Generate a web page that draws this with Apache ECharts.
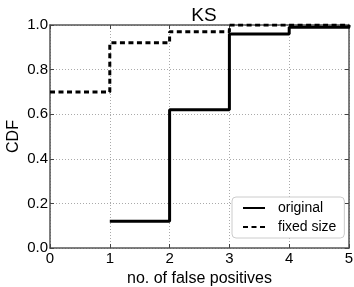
<!DOCTYPE html>
<html><head><meta charset="utf-8">
<script src="https://cdn.jsdelivr.net/npm/echarts@6/dist/echarts.min.js"></script>
<style>html,body{margin:0;padding:0;background:#fff}#c{width:354px;height:287px}</style>
</head><body><div id="c"></div>
<script>
const xTicks = [0, 1, 2, 3, 4, 5];
const yTicks = [0.0, 0.2, 0.4, 0.6, 0.8, 1.0];
const originalX = [1, 2, 3, 4, 5];
const originalY = [0.12, 0.62, 0.96, 0.99, 1.0];
const fixedX = [0, 1, 2, 3, 4, 5];
const fixedY = [0.70, 0.92, 0.97, 1.0, 1.0, 1.0];

const FONT = 'Liberation Sans';
const chart = echarts.init(document.getElementById('c'), null, {renderer: 'canvas'});
const split = {show: true, lineStyle: {color: '#aaa', type: [1, 2], width: 1}};
const tick = {show: true, inside: true, length: 4, lineStyle: {color: '#444'}};
const line = {show: true, onZero: false, lineStyle: {color: '#555', width: 1.5}};
chart.setOption({
  animation: false,
  title: {text: 'KS', left: 199, top: 1, textAlign: 'center',
    textStyle: {fontFamily: FONT, fontSize: 19, fontWeight: 'normal', color: '#000'}},
  grid: {left: 50, right: 5, top: 25, bottom: 39, containLabel: false, outerBoundsMode: 'none'},
  legend: {
    orient: 'vertical', left: 232, top: 197, width: 113,
    padding: [4, 8, 4, 10], itemGap: 5, itemWidth: 22, itemHeight: 14,
    borderColor: '#ccc', borderWidth: 1, borderRadius: 4, backgroundColor: '#fff',
    itemStyle: {opacity: 0, borderWidth: 0},
    textStyle: {fontFamily: FONT, fontSize: 14, color: '#000', padding: [0, 0, 0, 8]},
    data: ['original', 'fixed size']
  },
  xAxis: [
    {type: 'value', min: xTicks[0], max: xTicks[xTicks.length - 1], interval: 1,
     name: 'no. of false positives', nameLocation: 'middle', nameGap: 23, nameMoveOverlap: false,
     nameTextStyle: {fontFamily: FONT, fontSize: 16, color: '#000'},
     axisLine: line, axisTick: tick, splitLine: split,
     axisLabel: {fontFamily: FONT, fontSize: 15, color: '#000', margin: 3}},
    {type: 'value', position: 'top', min: xTicks[0], max: xTicks[xTicks.length - 1], interval: 1,
     axisLine: line, axisTick: tick, splitLine: {show: false}, axisLabel: {show: false}}
  ],
  yAxis: [
    {type: 'value', min: yTicks[0], max: yTicks[yTicks.length - 1], interval: 0.2,
     name: 'CDF', nameLocation: 'middle', nameGap: 28, nameMoveOverlap: false,
     nameTextStyle: {fontFamily: FONT, fontSize: 16, color: '#000'},
     axisLine: line, axisTick: tick, splitLine: split,
     axisLabel: {fontFamily: FONT, fontSize: 15, color: '#000', margin: 2,
       formatter: v => v.toFixed(1)}},
    {type: 'value', position: 'right', min: yTicks[0], max: yTicks[yTicks.length - 1], interval: 0.2,
     axisLine: line, axisTick: tick, splitLine: {show: false}, axisLabel: {show: false}}
  ],
  series: [
    {name: 'original', type: 'line', step: 'end', symbol: 'none',
     lineStyle: {color: '#000', width: 3},
     itemStyle: {color: '#000'},
     data: originalX.map((x, i) => [x, originalY[i]])},
    {name: 'fixed size', type: 'line', step: 'end', symbol: 'none',
     lineStyle: {color: '#000', width: 3, type: [5, 3.5]},
     itemStyle: {color: '#000'},
     data: fixedX.map((x, i) => [x, fixedY[i]])}
  ]
});
</script></body></html>
